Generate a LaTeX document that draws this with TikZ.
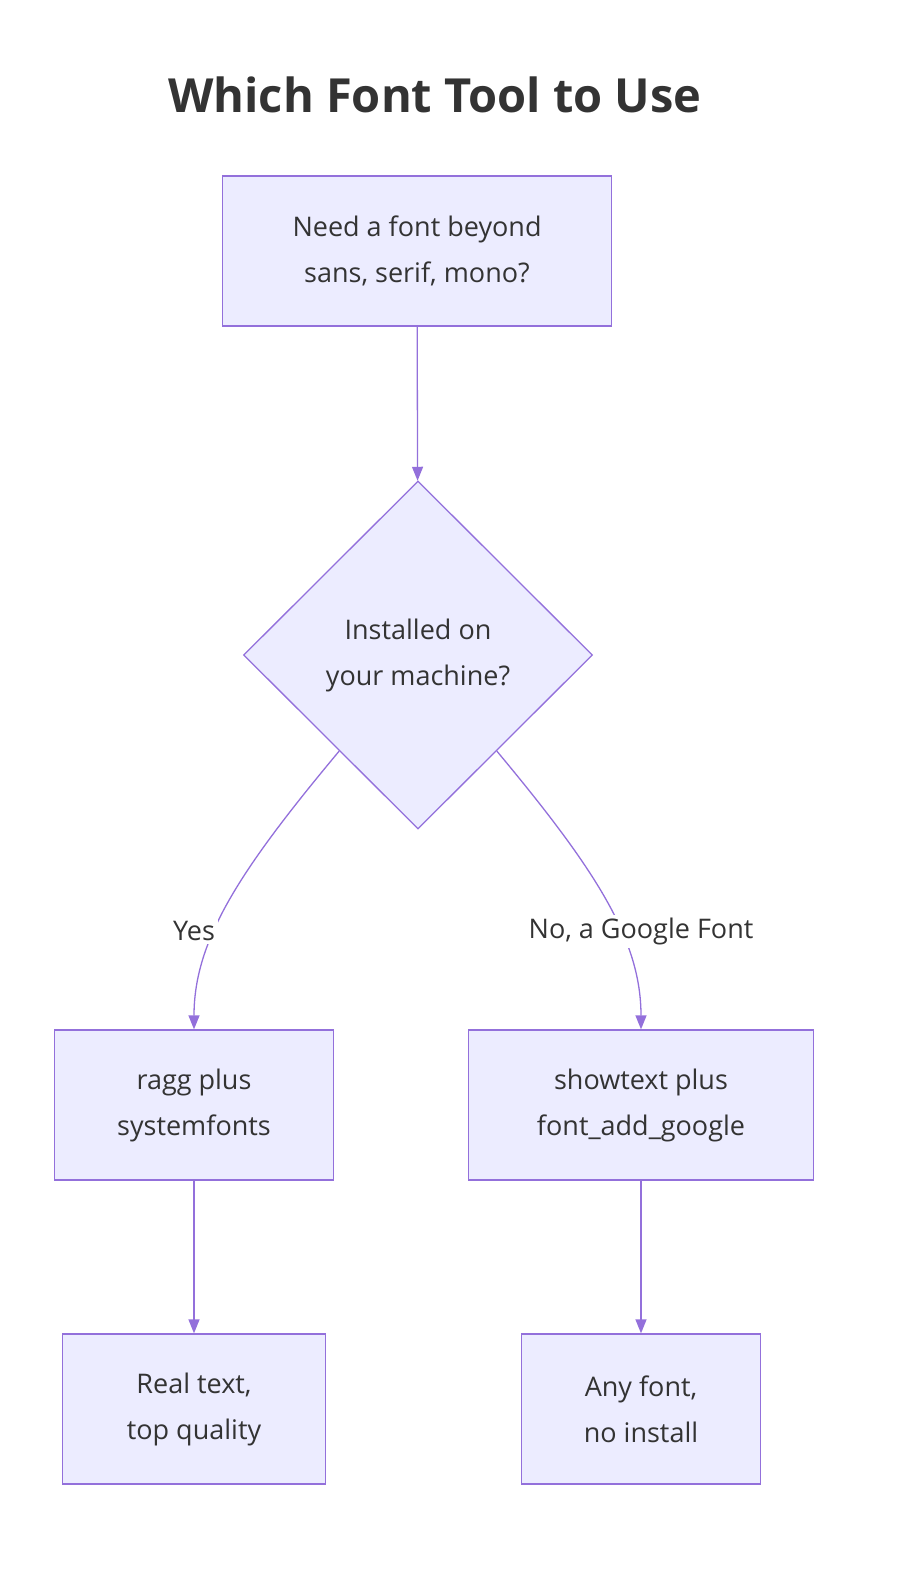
\documentclass[tikz,border=0pt]{standalone}
\usepackage{fontspec}
\setmainfont{Open Sans}
\usetikzlibrary{shapes.geometric,arrows.meta,calc}
\definecolor{boxfill}{HTML}{ECECFF}
\definecolor{boxline}{HTML}{9370DB}
\definecolor{txt}{HTML}{333333}
\tikzset{
  stepbox/.style={draw=boxline,fill=boxfill,line width=1.3bp,text=txt,align=center,
    minimum height=150bp,inner sep=0pt,font=\fontsize{27bp}{46bp}\selectfont},
  choice/.style={stepbox,diamond,minimum width=349bp,minimum height=348bp},
  flow/.style={draw=boxline,line width=1.3bp,-{Triangle[length=14bp,width=11bp]}},
  tag/.style={fill=white,text=txt,inner sep=3bp,font=\fontsize{27bp}{32bp}\selectfont}
}
\begin{document}
\begin{tikzpicture}[x=1bp,y=-1bp]
  \useasboundingbox (0,0) rectangle (900,1596);
  \node[text=txt,font=\bfseries\fontsize{47bp}{56bp}\selectfont] (title) at (435,95) {Which Font Tool to Use};
  % boxes
  \node[stepbox,minimum width=389bp] (need) at (417,251) {Need a font beyond\\sans, serif, mono?};
  \node[choice] (inst) at (418,655) {Installed on\\your machine?};
  \node[stepbox,minimum width=279bp] (ragg) at (194,1105) {ragg plus\\systemfonts};
  \node[stepbox,minimum width=345bp] (show) at (641,1105) {showtext plus\\font\_add\_google};
  \node[stepbox,minimum width=263bp] (real) at (194,1409) {Real text,\\top quality};
  \node[stepbox,minimum width=239bp] (any) at (641,1409) {Any font,\\no install};
  % connectors
  \draw[flow] (need) -- (inst);
  \coordinate (yesout) at ($(inst.west)!0.55!(inst.south)$);
  \coordinate (noout) at ($(inst.east)!0.55!(inst.south)$);
  \draw[flow] (yesout) .. controls (240,870) and (194,940) .. (ragg.north);
  \draw[flow] (noout) .. controls (596,870) and (641,940) .. (show.north);
  \node[tag] (yes) at (194,931) {Yes};
  \node[tag] (no) at (641,931) {No, a Google Font};
  \draw[flow] (ragg) -- (real);
  \draw[flow] (show) -- (any);
\end{tikzpicture}
\end{document}
